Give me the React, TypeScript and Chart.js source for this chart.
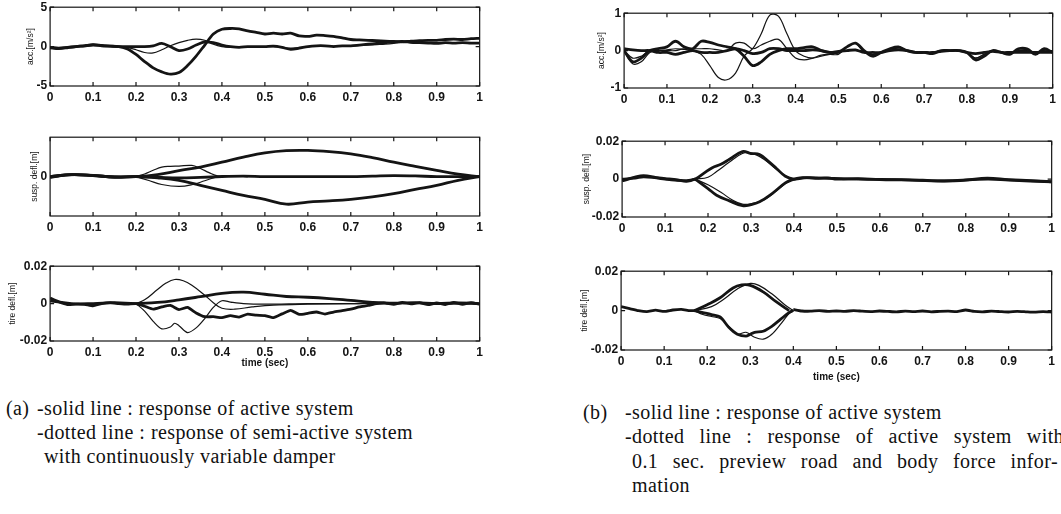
import { useEffect, useRef } from "react";
import { Chart, registerables } from "chart.js";

Chart.register(...registerables);

// ---------- sample times (s) ----------
const tDense = [
  0, 0.02, 0.04, 0.06, 0.08, 0.1, 0.12, 0.14, 0.16, 0.18,
  0.2, 0.22, 0.24, 0.26, 0.28, 0.3, 0.32, 0.34, 0.36, 0.38,
  0.4, 0.42, 0.44, 0.46, 0.48, 0.5, 0.52, 0.54, 0.56, 0.58,
  0.6, 0.62, 0.64, 0.66, 0.68, 0.7, 0.72, 0.74, 0.76, 0.78,
  0.8, 0.82, 0.84, 0.86, 0.88, 0.9, 0.92, 0.94, 0.96, 0.98,
  1.0,
];
const tCoarse = [
  0, 0.05, 0.1, 0.15, 0.2, 0.25, 0.3, 0.35, 0.4, 0.45,
  0.5, 0.55, 0.6, 0.65, 0.7, 0.75, 0.8, 0.85, 0.9, 0.95, 1,
];

// ---------- (a) body acceleration [m/s^2] ----------
const accSemiA = [
  -0.1, -0.2, -0.1, 0, 0.1, 0.2, 0.1, 0.05, 0, -0.3,
  -1.0, -1.9, -2.7, -3.2, -3.5, -3.3, -2.4, -1.2, 0.2, 1.6,
  2.2, 2.3, 2.25, 2.0, 1.8, 1.6, 1.7, 1.6, 1.7, 1.35,
  1.3, 1.45, 1.4, 1.3, 1.1, 0.9, 0.85, 0.8, 0.75, 0.7,
  0.65, 0.6, 0.7, 0.75, 0.8, 0.8, 0.9, 0.95, 0.9, 1.0,
  1.05,
];
const accActA = [
  -0.1, -0.2, -0.1, 0, 0.1, 0.2, 0.1, 0.05, 0, -0.1,
  -0.4, -0.75, -0.8, -0.4, 0.1, 0.5, 0.8, 0.95, 0.8, 0.3,
  0, -0.1, 0, 0, 0, 0, 0, -0.1, -0.2, -0.1,
  0, 0.1, 0.1, 0.05, 0.1, 0.1, 0.15, 0.2, 0.25, 0.3,
  0.4, 0.55, 0.5, 0.45, 0.5, 0.45, 0.5, 0.45, 0.5, 0.45,
  0.5,
];
const accNearA = [
  -0.15, -0.25, -0.15, 0, 0.1, 0.25, 0.15, 0.05, 0, 0,
  0, 0, 0.1, 0.4, 0, -0.5, -0.3, 0.2, 0.6, 0.5,
  0.2, 0, -0.1, 0, 0, 0, 0.05, -0.1, -0.35, -0.2,
  0, 0.1, 0.1, 0, 0.1, 0.1, 0.2, 0.3, 0.4, 0.5,
  0.6, 0.65, 0.55, 0.5, 0.45, 0.4, 0.5, 0.45, 0.5, 0.45,
  0.45,
];

// ---------- (a) suspension deflection [m] ----------
const suspSemiUpA = [
  0, 0.0015, 0.0008, -0.0003, 0, 0.0015, 0.0045, 0.0073, 0.011, 0.0148,
  0.018, 0.0197, 0.0199, 0.019, 0.0173, 0.0145, 0.011, 0.0078, 0.0047, 0.0018, 0,
];
const suspSemiLoA = [
  0, 0.0015, 0.0008, -0.0003, 0, -0.001, -0.0029, -0.0067, -0.0105, -0.0143,
  -0.0173, -0.021, -0.0194, -0.0185, -0.0173, -0.0155, -0.013, -0.0098, -0.0067, -0.0028, 0,
];
const suspActUpT = [0.2, 0.22, 0.24, 0.26, 0.28, 0.3, 0.33, 0.35, 0.37, 0.39, 0.41, 0.43, 0.46];
const suspActUpA = [0, 0.002, 0.0048, 0.0072, 0.0078, 0.008, 0.0085, 0.0062, 0.003, 0.0005, 0.0008, 0.0003, 0];
const suspActLoT = [0.2, 0.23, 0.26, 0.3, 0.33, 0.36, 0.39, 0.41, 0.43, 0.46];
const suspActLoA = [0, -0.003, -0.006, -0.0075, -0.0062, -0.0032, 0, 0.0008, 0.0003, 0];
const suspNearT = [0, 0.03, 0.06, 0.1, 0.15, 0.2, 0.25, 0.3, 0.35, 0.4, 0.45, 0.5, 0.6, 0.7, 0.75, 0.8, 0.85, 0.9, 0.95, 1];
const suspNearA = [-0.0008, 0.001, 0.0015, 0.001, -0.0004, 0, -0.0005, -0.001, -0.0006, 0, 0.0004, 0, 0, 0, 0.0004, 0.0008, 0.0005, 0, 0, 0];

// ---------- (a) tire deflection [m] ----------
const tireThickLoA = [
  0.003, 0.001, -0.0005, -0.0003, -0.0004, -0.0012, 0, 0.0005, 0, -0.0003,
  0, -0.0014, -0.003, -0.0018, -0.001, -0.0032, -0.002, -0.005, -0.007, -0.007,
  -0.0075, -0.0064, -0.0072, -0.0056, -0.0062, -0.0064, -0.0075, -0.0055, -0.0036, -0.0058,
  -0.0052, -0.0045, -0.0056, -0.0045, -0.0038, -0.003, -0.0018, -0.001, 0, 0.0003,
  -0.0004, 0.0006, -0.0002, 0.0005, -0.0006, 0.0004, -0.0005, 0.0006, -0.0004, 0.0005,
  -0.0003,
];
const tireThickUpA = [
  0.0015, 0, 0, 0.0005, 0, 0.0006, 0.002, 0.0037, 0.0055, 0.0061,
  0.005, 0.0038, 0.0034, 0.0027, 0.0017, 0.0007, 0.0002, 0.0005, 0, 0.0004, 0,
];
const tireThinUpT = [0.2, 0.22, 0.25, 0.27, 0.29, 0.31, 0.33, 0.36, 0.38, 0.4, 0.43, 0.47, 0.52, 0.6, 0.7, 0.8, 0.9, 1];
const tireThinUpA = [0, 0.002, 0.0075, 0.011, 0.0129, 0.0122, 0.0098, 0.0045, 0.0005, -0.0025, -0.003, -0.0018, -0.0008, -0.0003, 0, 0.0003, 0, 0];
const tireThinLoT = [0.2, 0.22, 0.24, 0.26, 0.28, 0.29, 0.3, 0.32, 0.34, 0.36, 0.38, 0.4, 0.42, 0.45, 0.5, 0.6, 0.7, 0.8, 0.9, 1];
const tireThinLoA = [0, -0.004, -0.0095, -0.0135, -0.0125, -0.0105, -0.0118, -0.0155, -0.013, -0.008, -0.002, 0.0015, 0.0008, 0, -0.0003, 0, 0, 0.0003, 0, 0];

// ---------- (b) body acceleration [m/s^2] ----------
const accAct1B = [
  0, -0.35, -0.3, -0.05, 0, 0.02, 0.05, 0.03, 0, -0.1,
  -0.4, -0.72, -0.78, -0.6, -0.15, 0.05, 0.45, 0.95, 0.92, 0.45,
  0.0, -0.15, -0.2, -0.15, -0.1, -0.05, 0, 0, -0.02, -0.1,
  -0.05, 0.05, 0.05, 0, -0.03, -0.05, -0.05, 0, 0, 0,
  -0.05, -0.2, -0.1, 0, -0.05, -0.08, 0, 0, -0.05, 0,
  -0.05,
];
const accAct2B = [
  0, -0.3, -0.2, 0, 0.05, 0.1, 0.25, 0.1, 0.05, 0.25,
  0.22, 0.15, 0.1, 0.05, -0.15, -0.4, -0.3, -0.1, 0, 0.05,
  0.05, 0.08, 0.1, 0, -0.05, -0.05, 0.1, 0.2, 0, -0.15,
  -0.05, 0.05, 0.1, 0, -0.05, -0.05, -0.08, 0, 0, 0,
  -0.05, -0.25, -0.15, 0, -0.05, -0.1, 0.05, 0.05, -0.1, 0.05,
  -0.05,
];
const accPrevB = [
  0, -0.2, -0.15, 0, 0, 0, 0, 0.05, 0.05, 0.05,
  0.05, 0.02, 0, 0.2, 0.2, 0.05, 0.15, 0.25, 0.3, 0.05,
  -0.2, -0.25, -0.2, -0.12, -0.1, -0.1, 0.1, 0.2, -0.05, -0.1,
  -0.05, 0.05, 0.1, 0, -0.05, -0.05, -0.05, 0, 0, 0,
  -0.05, -0.2, -0.1, 0, -0.05, -0.08, 0, 0.02, -0.08, 0.02,
  -0.05,
];
const accNearB = [
  0.05, 0.02, 0, 0, -0.05, -0.05, -0.1, -0.05, 0, -0.05,
  -0.05, -0.05, 0, 0.05, 0, -0.08, -0.05, 0.05, 0.05, 0,
  0, 0, 0.02, 0, -0.05, -0.02, 0, 0.02, -0.05, -0.05,
  -0.05, 0, 0.02, 0, -0.05, -0.05, -0.05, -0.02, 0, 0,
  -0.05, -0.08, -0.05, -0.02, -0.05, -0.05, -0.05, -0.05, -0.05, -0.05,
  -0.05,
];

// ---------- (b) suspension deflection [m] ----------
const suspUp1T = [0, 0.03, 0.05, 0.08, 0.1, 0.13, 0.15, 0.17, 0.19, 0.21, 0.23, 0.25, 0.28, 0.3, 0.32, 0.34, 0.36, 0.38, 0.4, 0.43, 0.47, 0.55, 0.65, 0.75, 0.85, 0.9, 1];
const suspUp1B = [-0.001, 0.001, 0.0018, 0.0008, 0.0003, -0.0005, -0.0012, 0, 0.003, 0.006, 0.0078, 0.0105, 0.0145, 0.0135, 0.013, 0.0095, 0.0055, 0.0015, 0, 0.0008, 0.0005, 0, -0.0003, -0.001, 0, -0.0005, -0.0015];
const suspUp2T = [0.17, 0.2, 0.22, 0.25, 0.28, 0.3, 0.33, 0.36, 0.39, 0.41];
const suspUp2B = [0, 0.001, 0.004, 0.009, 0.0135, 0.0138, 0.0105, 0.005, 0.0005, 0];
const suspLo1T = [0.17, 0.2, 0.22, 0.25, 0.28, 0.3, 0.32, 0.35, 0.38, 0.4];
const suspLo1B = [0, -0.005, -0.0085, -0.0115, -0.014, -0.0135, -0.012, -0.0075, -0.002, 0];
const suspLo2T = [0.17, 0.2, 0.23, 0.26, 0.28, 0.3, 0.33, 0.36, 0.39, 0.41];
const suspLo2B = [0, -0.003, -0.007, -0.0115, -0.0132, -0.013, -0.011, -0.006, -0.001, 0];
const suspNearBT = [0, 0.03, 0.05, 0.08, 0.1, 0.13, 0.15, 0.17, 0.25, 0.4, 0.42, 0.45, 0.48, 0.5, 0.55, 0.6, 0.65, 0.7, 0.75, 0.8, 0.85, 0.9, 0.95, 1];
const suspNearB = [0, 0.0005, 0.0012, 0.0006, 0, -0.0006, -0.0008, 0, null, 0, 0.0008, 0.0004, 0.0006, 0, 0.0002, -0.0002, -0.0004, -0.0006, -0.0009, -0.0004, 0.0005, -0.0003, -0.0008, -0.0014];

// ---------- (b) tire deflection [m] ----------
const tireUp1T = [0.17, 0.2, 0.23, 0.26, 0.28, 0.3, 0.33, 0.36, 0.39];
const tireUp1B = [0, 0.003, 0.0065, 0.0115, 0.013, 0.0128, 0.0095, 0.0045, 0];
const tireUp2T = [0.17, 0.21, 0.24, 0.27, 0.3, 0.32, 0.35, 0.38, 0.4];
const tireUp2B = [0, 0.002, 0.006, 0.011, 0.0138, 0.0128, 0.0085, 0.003, 0];
const tireLo1T = [0.17, 0.19, 0.21, 0.23, 0.25, 0.27, 0.29, 0.3, 0.31, 0.33, 0.35, 0.37, 0.39, 0.4];
const tireLo1B = [0, -0.001, -0.002, -0.0032, -0.0085, -0.012, -0.013, -0.012, -0.011, -0.0105, -0.008, -0.0045, -0.001, 0];
const tireLo2T = [0.17, 0.19, 0.21, 0.23, 0.25, 0.27, 0.29, 0.31, 0.33, 0.35, 0.37, 0.39, 0.4];
const tireLo2B = [0, -0.002, -0.003, -0.004, -0.008, -0.012, -0.011, -0.0135, -0.0145, -0.012, -0.007, -0.0015, 0];
const tireNearB = [
  0.002, 0.001, 0, -0.0005, 0.0002, -0.0004, 0.0003, 0.0006, 0, 0,
  null, null, null, null, null, null, null, null, null, null,
  0.0006, -0.0002, -0.0003, 0, -0.0004, -0.0002, -0.0004, 0, -0.0003, -0.0005,
  -0.0002, -0.0004, -0.0006, -0.0003, -0.0005, -0.0002, -0.0006, -0.0004, -0.0003, -0.0005,
  0.0003, -0.0004, -0.0006, -0.0003, -0.0005, -0.0007, -0.0004, -0.0006, -0.0008, -0.0005,
  -0.0007,
];

// ---------- axis ticks ----------
const accTicksA = [-5, 0, 5];
const suspTicksA = [0];
const deflTicks = [-0.02, 0, 0.02];
const accTicksB = [-1, 0, 1];

const INK = "#141414";

type Trace = { t: number[]; v: (number | null)[]; thick?: boolean; tension?: number };

type PanelSpec = {
  area: { l: number; t: number; r: number; b: number };
  titleX: number;
  yTitle: string;
  yMin: number;
  yMax: number;
  yTicks: number[];
  xTitle?: string;
  xAxisH: number;
  traces: Trace[];
};

const PAD_TOP = 10;
const PAD_RIGHT = 6;
const Y_TITLE_SIZE = 8.5;
const Y_TITLE_LH = Y_TITLE_SIZE * 1.2;

const panels: PanelSpec[] = [
  {
    area: { l: 50, t: 7, r: 481, b: 86 },
    titleX: 31,
    yTitle: "acc.[m/s²]",
    yMin: -5,
    yMax: 5,
    yTicks: accTicksA,
    xAxisH: 22,
    traces: [
      { t: tDense, v: accNearA, thick: true, tension: 0.3 },
      { t: tDense, v: accActA, tension: 0.35 },
      { t: tDense, v: accSemiA, thick: true, tension: 0.3 },
    ],
  },
  {
    area: { l: 50, t: 137, r: 481, b: 216 },
    titleX: 35,
    yTitle: "susp. defl.[m]",
    yMin: -0.03,
    yMax: 0.03,
    yTicks: suspTicksA,
    xAxisH: 22,
    traces: [
      { t: suspNearT, v: suspNearA, thick: true, tension: 0.4 },
      { t: suspActUpT, v: suspActUpA, tension: 0.4 },
      { t: suspActLoT, v: suspActLoA, tension: 0.4 },
      { t: tCoarse, v: suspSemiUpA, thick: true, tension: 0.4 },
      { t: tCoarse, v: suspSemiLoA, thick: true, tension: 0.4 },
    ],
  },
  {
    area: { l: 50, t: 266, r: 481, b: 341 },
    titleX: 13,
    yTitle: "tire defl.[m]",
    yMin: -0.02,
    yMax: 0.02,
    yTicks: deflTicks,
    xTitle: "time (sec)",
    xAxisH: 28,
    traces: [
      { t: tDense, v: tireThickLoA, thick: true, tension: 0.15 },
      { t: tCoarse, v: tireThickUpA, thick: true, tension: 0.4 },
      { t: tireThinUpT, v: tireThinUpA, tension: 0.4 },
      { t: tireThinLoT, v: tireThinLoA, tension: 0.3 },
    ],
  },
  {
    area: { l: 624, t: 13, r: 1054, b: 88 },
    titleX: 602,
    yTitle: "acc.[m/s²]",
    yMin: -1,
    yMax: 1,
    yTicks: accTicksB,
    xAxisH: 22,
    traces: [
      { t: tDense, v: accNearB, thick: true, tension: 0.3 },
      { t: tDense, v: accAct2B, thick: true, tension: 0.35 },
      { t: tDense, v: accPrevB, tension: 0.35 },
      { t: tDense, v: accAct1B, tension: 0.35 },
    ],
  },
  {
    area: { l: 622, t: 141, r: 1053, b: 217 },
    titleX: 587,
    yTitle: "susp. defl.[m]",
    yMin: -0.02,
    yMax: 0.02,
    yTicks: deflTicks,
    xAxisH: 22,
    traces: [
      { t: suspNearBT, v: suspNearB, thick: true, tension: 0.4 },
      { t: suspUp1T, v: suspUp1B, thick: true, tension: 0.4 },
      { t: suspUp2T, v: suspUp2B, tension: 0.4 },
      { t: suspLo1T, v: suspLo1B, thick: true, tension: 0.4 },
      { t: suspLo2T, v: suspLo2B, tension: 0.4 },
    ],
  },
  {
    area: { l: 621, t: 271, r: 1053, b: 350 },
    titleX: 585,
    yTitle: "tire defl.[m]",
    yMin: -0.02,
    yMax: 0.02,
    yTicks: deflTicks,
    xTitle: "time (sec)",
    xAxisH: 33,
    traces: [
      { t: tDense, v: tireNearB, thick: true, tension: 0.15 },
      { t: tireUp1T, v: tireUp1B, thick: true, tension: 0.4 },
      { t: tireUp2T, v: tireUp2B, tension: 0.4 },
      { t: tireLo1T, v: tireLo1B, thick: true, tension: 0.3 },
      { t: tireLo2T, v: tireLo2B, tension: 0.3 },
    ],
  },
];

// Box around the plot area with short inward tick marks on all four sides.
const framePlugin = {
  id: "matlabFrame",
  afterDatasetsDraw(chart: any) {
    const { ctx, chartArea: a, scales } = chart;
    ctx.save();
    ctx.strokeStyle = INK;
    ctx.lineWidth = 1.2;
    ctx.strokeRect(a.left, a.top, a.right - a.left, a.bottom - a.top);
    const tl = 4;
    ctx.beginPath();
    scales.x.ticks.forEach((tk: any) => {
      const px = scales.x.getPixelForValue(tk.value);
      ctx.moveTo(px, a.bottom);
      ctx.lineTo(px, a.bottom - tl);
      ctx.moveTo(px, a.top);
      ctx.lineTo(px, a.top + tl);
    });
    scales.y.ticks.forEach((tk: any) => {
      const py = scales.y.getPixelForValue(tk.value);
      ctx.moveTo(a.left, py);
      ctx.lineTo(a.left + tl, py);
      ctx.moveTo(a.right, py);
      ctx.lineTo(a.right - tl, py);
    });
    ctx.stroke();
    ctx.restore();
  },
};

function Panel({ spec }: { spec: PanelSpec }) {
  const ref = useRef<HTMLCanvasElement>(null);
  const { area } = spec;
  const axisW = area.l - spec.titleX + Y_TITLE_LH / 2;
  const left = area.l - axisW;
  const top = area.t - PAD_TOP;
  const width = area.r + PAD_RIGHT - left;
  const height = area.b + spec.xAxisH - top;

  useEffect(() => {
    const canvas = ref.current;
    if (!canvas) return;
    const chart = new Chart(canvas, {
      type: "line",
      data: {
        datasets: spec.traces.map((tr) => ({
          data: tr.t.map((x, i) => ({ x, y: tr.v[i] })),
          borderColor: INK,
          borderWidth: tr.thick ? 2.8 : 1.2,
          pointRadius: 0,
          tension: tr.tension ?? 0.3,
          fill: false,
          spanGaps: false,
        })),
      },
      options: {
        responsive: false,
        animation: false,
        events: [],
        layout: { padding: { top: PAD_TOP, right: PAD_RIGHT, left: 0, bottom: 0 } },
        plugins: { legend: { display: false }, tooltip: { enabled: false } },
        scales: {
          x: {
            type: "linear",
            min: 0,
            max: 1,
            grid: { display: false, drawTicks: false },
            border: { display: false },
            ticks: {
              stepSize: 0.1,
              padding: 4,
              color: INK,
              font: { family: "Liberation Sans", size: 12, weight: "bold" },
              maxRotation: 0,
              autoSkip: false,
              callback: (v: any) => String(Math.round(Number(v) * 10) / 10),
            },
            title: spec.xTitle
              ? {
                  display: true,
                  text: spec.xTitle,
                  color: INK,
                  padding: 0,
                  font: { family: "Liberation Sans", size: 10, weight: "bold" },
                }
              : { display: false },
            afterFit: (s: any) => {
              s.height = spec.xAxisH;
            },
          },
          y: {
            type: "linear",
            min: spec.yMin,
            max: spec.yMax,
            grid: { display: false, drawTicks: false },
            border: { display: false },
            afterBuildTicks: (s: any) => {
              s.ticks = spec.yTicks.map((v) => ({ value: v }));
            },
            ticks: {
              padding: 3,
              color: INK,
              font: { family: "Liberation Sans", size: 12, weight: "bold" },
              callback: (v: any) => String(v),
            },
            title: {
              display: true,
              text: spec.yTitle,
              color: INK,
              padding: 0,
              font: { family: "Liberation Sans", size: Y_TITLE_SIZE, lineHeight: 1.2 },
            },
            afterFit: (s: any) => {
              s.width = axisW;
            },
          },
        },
      },
      plugins: [framePlugin],
    } as any);
    return () => chart.destroy();
  }, [spec]);

  return (
    <canvas
      ref={ref}
      width={width}
      height={height}
      style={{ position: "absolute", left, top, width, height }}
    />
  );
}

// Caption lines; a right edge stretches the line to full justification.
type CaptionLine = { x: number; y: number; text: string; right?: number };

const captionA: CaptionLine[] = [
  { x: 6, y: 409, text: "(a)" },
  { x: 37, y: 409, text: "-solid line : response of active system" },
  { x: 37, y: 433, text: "-dotted line : response of semi-active system", right: 413 },
  { x: 44, y: 457, text: "with continuously variable damper" },
];
const captionB: CaptionLine[] = [
  { x: 583, y: 413, text: "(b)" },
  { x: 625, y: 413, text: "-solid line : response of active system" },
  { x: 625, y: 437, text: "-dotted line : response of active system with", right: 1064 },
  { x: 632, y: 462, text: "0.1 sec. preview road and body force infor-", right: 1058 },
  { x: 632, y: 486, text: "mation" },
];

export default function App() {
  return (
    <div
      style={{
        position: "fixed",
        left: 0,
        top: 0,
        width: 1061,
        height: 514,
        overflow: "hidden",
        background: "#fff",
      }}
    >
      {panels.map((p, i) => (
        <Panel key={i} spec={p} />
      ))}
      {[...captionA, ...captionB].map((c, i) => (
        <div
          key={"c" + i}
          style={{
            position: "absolute",
            left: c.x,
            top: c.y - 13,
            width: c.right !== undefined ? c.right - c.x : undefined,
            textAlign: c.right !== undefined ? "justify" : "left",
            textAlignLast: c.right !== undefined ? "justify" : "auto",
            fontFamily: "'Liberation Serif', 'Times New Roman', serif",
            fontSize: 20,
            lineHeight: "24px",
            letterSpacing: 0.4,
            whiteSpace: "nowrap",
            color: "#111",
          }}
        >
          {c.text}
        </div>
      ))}
    </div>
  );
}
